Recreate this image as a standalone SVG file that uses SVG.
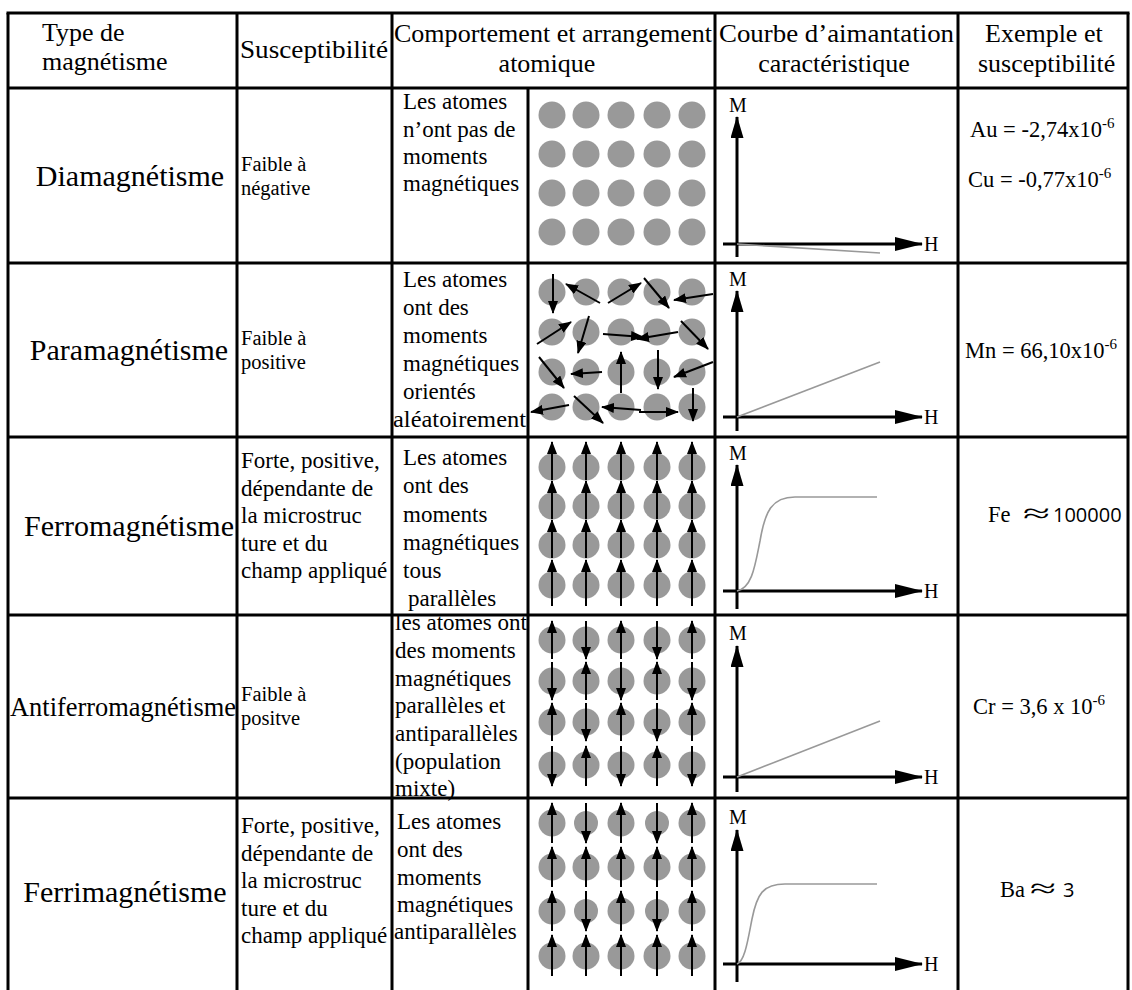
<svg xmlns="http://www.w3.org/2000/svg" width="1132" height="990" viewBox="0 0 1132 990">
<style>
.t{font-family:"Liberation Serif","Times New Roman",serif;fill:#000}
.h{font-size:26px}
.n{font-size:30px}
.b{font-size:23px}
.s{font-size:20.5px}
.e{font-size:22.5px}
.sup{font-size:15px}
.sans{font-family:"Open Sans","Liberation Sans",sans-serif;font-size:20px}
.ax{font-size:20px}
.grid line{stroke:#000;stroke-width:3;fill:none}
.atom{fill:#999}
.mom{stroke:#000;stroke-width:2;marker-end:url(#ah)}
.axis{stroke:#000;stroke-width:3;fill:none}
.va{marker-end:url(#vh)}
.ha{marker-end:url(#hh)}
.curve{stroke:#999;stroke-width:1.6;fill:none}
</style>
<defs>
<marker id="ah" markerUnits="userSpaceOnUse" markerWidth="13" markerHeight="10" refX="12" refY="5" orient="auto"><path d="M0,0 L13,5 L0,10 z" fill="#000"/></marker>
<marker id="vh" markerUnits="userSpaceOnUse" markerWidth="22" markerHeight="13" refX="21" refY="6.5" orient="auto"><path d="M0,0 L22,6.5 L0,13 z" fill="#000"/></marker>
<marker id="hh" markerUnits="userSpaceOnUse" markerWidth="28" markerHeight="14" refX="27" refY="7" orient="auto"><path d="M0,0 L28,7 L0,14 z" fill="#000"/></marker>
<g id="atomrow"><circle class="atom" cx="552" cy="0" r="13.5"/><circle class="atom" cx="586" cy="0" r="13.5"/><circle class="atom" cx="621" cy="0" r="13.5"/><circle class="atom" cx="657" cy="0" r="13.5"/><circle class="atom" cx="692" cy="0" r="13.5"/></g>
</defs>
<rect width="1132" height="990" fill="#fff"/>

<g id="grid" class="grid">
<line x1="8" y1="13" x2="8" y2="990"/>
<line x1="1128" y1="13" x2="1128" y2="990"/>
<line x1="237" y1="13" x2="237" y2="990"/>
<line x1="392" y1="13" x2="392" y2="990"/>
<line x1="528" y1="88" x2="528" y2="990"/>
<line x1="715" y1="13" x2="715" y2="990"/>
<line x1="958" y1="13" x2="958" y2="990"/>
<line x1="6.5" y1="13" x2="1129.5" y2="13"/>
<line x1="8" y1="88" x2="1128" y2="88"/>
<line x1="8" y1="263" x2="1128" y2="263"/>
<line x1="8" y1="437" x2="1128" y2="437"/>
<line x1="8" y1="615" x2="1128" y2="615"/>
<line x1="8" y1="798" x2="1128" y2="798"/>
</g>

<g id="header" class="t h">
<text x="42" y="41">Type de</text>
<text x="42" y="70">magnétisme</text>
<text x="240" y="58" textLength="148" lengthAdjust="spacingAndGlyphs">Susceptibilité</text>
<text x="394" y="42" textLength="318" lengthAdjust="spacingAndGlyphs">Comportement et arrangement</text>
<text x="547" y="72" text-anchor="middle">atomique</text>
<text x="719" y="42" textLength="235" lengthAdjust="spacingAndGlyphs">Courbe d’aimantation</text>
<text x="834" y="72" text-anchor="middle">caractéristique</text>
<text x="985" y="42">Exemple et</text>
<text x="978" y="72">susceptibilité</text>
</g>

<g id="row-dia">
<text class="t n" x="130" y="186" text-anchor="middle">Diamagnétisme</text>
<text class="t s" x="241" y="171">Faible à</text>
<text class="t s" x="241" y="195">négative</text>
<text class="t b" x="403" y="109">Les atomes</text>
<text class="t b" x="403" y="137">n’ont pas de</text>
<text class="t b" x="403" y="164">moments</text>
<text class="t b" x="403" y="191">magnétiques</text>
<use href="#atomrow" y="115"/><use href="#atomrow" y="154"/><use href="#atomrow" y="193"/><use href="#atomrow" y="232"/>
<text class="t ax" x="738" y="112" text-anchor="middle">M</text>
<line class="axis va" x1="737" y1="257" x2="737" y2="117"/>
<line class="axis ha" x1="723" y1="244" x2="922" y2="244"/>
<text class="t ax" x="924" y="251">H</text>
<line class="curve" x1="737" y1="244" x2="880" y2="253"/>
<text class="t e" x="970" y="137">Au = -2,74x10<tspan class="sup" dy="-9">-6</tspan></text>
<text class="t e" x="968" y="187">Cu = -0,77x10<tspan class="sup" dy="-9">-6</tspan></text>
</g>

<g id="row-para">
<text class="t n" x="129" y="360" text-anchor="middle">Paramagnétisme</text>
<text class="t s" x="241" y="345">Faible à</text>
<text class="t s" x="241" y="369">positive</text>
<text class="t b" x="403" y="287">Les atomes</text>
<text class="t b" x="403" y="315">ont des</text>
<text class="t b" x="403" y="343">moments</text>
<text class="t b" x="403" y="371">magnétiques</text>
<text class="t b" x="403" y="399">orientés</text>
<text class="t b" x="393" y="427" textLength="133" lengthAdjust="spacingAndGlyphs">aléatoirement</text>
<use href="#atomrow" y="292"/><use href="#atomrow" y="332"/><use href="#atomrow" y="372"/><use href="#atomrow" y="407"/>
<line class="mom" x1="553" y1="274" x2="553" y2="313"/>
<line class="mom" x1="600" y1="303" x2="566" y2="284"/>
<line class="mom" x1="608" y1="303" x2="641" y2="283"/>
<line class="mom" x1="644" y1="278" x2="669" y2="308"/>
<line class="mom" x1="713" y1="294" x2="674" y2="300"/>
<line class="mom" x1="537" y1="344" x2="571" y2="322"/>
<line class="mom" x1="589" y1="316" x2="578" y2="353"/>
<line class="mom" x1="603" y1="334" x2="643" y2="337"/>
<line class="mom" x1="678" y1="332" x2="637" y2="339"/>
<line class="mom" x1="681" y1="321" x2="708" y2="349"/>
<line class="mom" x1="539" y1="357" x2="564" y2="388"/>
<line class="mom" x1="602" y1="372" x2="571" y2="374"/>
<line class="mom" x1="621" y1="393" x2="621" y2="352"/>
<line class="mom" x1="658" y1="350" x2="658" y2="389"/>
<line class="mom" x1="713" y1="362" x2="674" y2="377"/>
<line class="mom" x1="569" y1="405" x2="531" y2="412"/>
<line class="mom" x1="574" y1="396" x2="603" y2="423"/>
<line class="mom" x1="641" y1="410" x2="602" y2="407"/>
<line class="mom" x1="639" y1="412" x2="678" y2="412"/>
<line class="mom" x1="693" y1="388" x2="693" y2="421"/>
<text class="t ax" x="738" y="286" text-anchor="middle">M</text>
<line class="axis va" x1="737" y1="431" x2="737" y2="291"/>
<line class="axis ha" x1="723" y1="417" x2="922" y2="417"/>
<text class="t ax" x="924" y="424">H</text>
<line class="curve" x1="737" y1="417" x2="880" y2="362"/>
<text class="t e" x="965" y="358">Mn = 66,10x10<tspan class="sup" dy="-9">-6</tspan></text>
</g>

<g id="row-ferro">
<text class="t n" x="129" y="536" text-anchor="middle">Ferromagnétisme</text>
<text class="t b" x="241" y="468">Forte, positive,</text>
<text class="t b" x="241" y="496">dépendante de</text>
<text class="t b" x="241" y="523">la microstruc</text>
<text class="t b" x="241" y="551">ture et du</text>
<text class="t b" x="241" y="578">champ appliqué</text>
<text class="t b" x="403" y="465">Les atomes</text>
<text class="t b" x="403" y="493">ont des</text>
<text class="t b" x="403" y="522">moments</text>
<text class="t b" x="403" y="550">magnétiques</text>
<text class="t b" x="403" y="578">tous</text>
<text class="t b" x="408" y="606">parallèles</text>
<use href="#atomrow" y="467"/><use href="#atomrow" y="506"/><use href="#atomrow" y="545"/><use href="#atomrow" y="585"/>
<g id="ferro-moments">
<line class="mom" x1="552" y1="480" x2="552" y2="442"/><line class="mom" x1="586" y1="480" x2="586" y2="442"/><line class="mom" x1="621" y1="480" x2="621" y2="442"/><line class="mom" x1="657" y1="480" x2="657" y2="442"/><line class="mom" x1="692" y1="480" x2="692" y2="442"/>
<line class="mom" x1="552" y1="519" x2="552" y2="481"/><line class="mom" x1="586" y1="519" x2="586" y2="481"/><line class="mom" x1="621" y1="519" x2="621" y2="481"/><line class="mom" x1="657" y1="519" x2="657" y2="481"/><line class="mom" x1="692" y1="519" x2="692" y2="481"/>
<line class="mom" x1="552" y1="558" x2="552" y2="520"/><line class="mom" x1="586" y1="558" x2="586" y2="520"/><line class="mom" x1="621" y1="558" x2="621" y2="520"/><line class="mom" x1="657" y1="558" x2="657" y2="520"/><line class="mom" x1="692" y1="558" x2="692" y2="520"/>
<line class="mom" x1="552" y1="606" x2="552" y2="560"/><line class="mom" x1="586" y1="606" x2="586" y2="560"/><line class="mom" x1="621" y1="606" x2="621" y2="560"/><line class="mom" x1="657" y1="606" x2="657" y2="560"/><line class="mom" x1="692" y1="606" x2="692" y2="560"/>
</g>
<text class="t ax" x="738" y="460" text-anchor="middle">M</text>
<line class="axis va" x1="737" y1="609" x2="737" y2="465"/>
<line class="axis ha" x1="723" y1="591" x2="922" y2="591"/>
<text class="t ax" x="924" y="598">H</text>
<path class="curve" d="M737,591 C752,588 755,566 760,541 C765,511 772,497 795,497 L877,497"/>
<text class="t e" x="988" y="522">Fe <tspan x="1023" font-size="26" textLength="27" lengthAdjust="spacingAndGlyphs">≈</tspan></text>
<text class="sans" x="1053" y="522">100000</text>
</g>

<g id="row-antiferro">
<text class="t" font-size="26.5" x="10" y="716" textLength="226" lengthAdjust="spacingAndGlyphs">Antiferromagnétisme</text>
<text class="t s" x="241" y="701">Faible à</text>
<text class="t s" x="241" y="725">positve</text>
<text class="t b" x="395" y="630" textLength="132" lengthAdjust="spacingAndGlyphs">les atomes ont</text>
<text class="t b" x="395" y="658">des moments</text>
<text class="t b" x="395" y="686">magnétiques</text>
<text class="t b" x="395" y="713">parallèles et</text>
<text class="t b" x="395" y="741">antiparallèles</text>
<text class="t b" x="395" y="769">(population</text>
<text class="t b" x="395" y="796">mixte)</text>
<use href="#atomrow" y="640"/><use href="#atomrow" y="681"/><use href="#atomrow" y="722"/><use href="#atomrow" y="765"/>
<g id="antiferro-moments">
<line class="mom" x1="552" y1="659" x2="552" y2="621"/><line class="mom" x1="586" y1="621" x2="586" y2="659"/><line class="mom" x1="621" y1="659" x2="621" y2="621"/><line class="mom" x1="657" y1="621" x2="657" y2="659"/><line class="mom" x1="692" y1="659" x2="692" y2="621"/>
<line class="mom" x1="552" y1="662" x2="552" y2="700"/><line class="mom" x1="586" y1="700" x2="586" y2="662"/><line class="mom" x1="621" y1="662" x2="621" y2="700"/><line class="mom" x1="657" y1="700" x2="657" y2="662"/><line class="mom" x1="692" y1="662" x2="692" y2="700"/>
<line class="mom" x1="552" y1="741" x2="552" y2="703"/><line class="mom" x1="586" y1="703" x2="586" y2="741"/><line class="mom" x1="621" y1="741" x2="621" y2="703"/><line class="mom" x1="657" y1="703" x2="657" y2="741"/><line class="mom" x1="692" y1="741" x2="692" y2="703"/>
<line class="mom" x1="552" y1="746" x2="552" y2="786"/><line class="mom" x1="586" y1="786" x2="586" y2="746"/><line class="mom" x1="621" y1="746" x2="621" y2="786"/><line class="mom" x1="657" y1="786" x2="657" y2="746"/><line class="mom" x1="692" y1="746" x2="692" y2="786"/>
</g>
<text class="t ax" x="738" y="640" text-anchor="middle">M</text>
<line class="axis va" x1="737" y1="792" x2="737" y2="646"/>
<line class="axis ha" x1="723" y1="777" x2="922" y2="777"/>
<text class="t ax" x="924" y="784">H</text>
<line class="curve" x1="737" y1="777" x2="880" y2="721"/>
<text class="t e" x="973" y="714">Cr = 3,6 x 10<tspan class="sup" dy="-9">-6</tspan></text>
</g>

<g id="row-ferri">
<text class="t n" x="125" y="902" text-anchor="middle">Ferrimagnétisme</text>
<text class="t b" x="241" y="833">Forte, positive,</text>
<text class="t b" x="241" y="861">dépendante de</text>
<text class="t b" x="241" y="888">la microstruc</text>
<text class="t b" x="241" y="916">ture et du</text>
<text class="t b" x="241" y="943">champ appliqué</text>
<text class="t b" x="397" y="829">Les atomes</text>
<text class="t b" x="397" y="857">ont des</text>
<text class="t b" x="397" y="885">moments</text>
<text class="t b" x="397" y="912">magnétiques</text>
<text class="t b" x="394" y="939">antiparallèles</text>
<g id="ferri-atoms">
<circle class="atom" cx="552" cy="823" r="13.5"/><circle class="atom" cx="586" cy="823" r="12"/><circle class="atom" cx="621" cy="823" r="13.5"/><circle class="atom" cx="657" cy="823" r="12"/><circle class="atom" cx="692" cy="823" r="13.5"/>
<use href="#atomrow" y="867"/>
<circle class="atom" cx="552" cy="911" r="13.5"/><circle class="atom" cx="586" cy="911" r="12"/><circle class="atom" cx="621" cy="911" r="13.5"/><circle class="atom" cx="657" cy="911" r="12"/><circle class="atom" cx="692" cy="911" r="13.5"/>
<use href="#atomrow" y="956"/>
</g>
<g id="ferri-moments">
<line class="mom" x1="552" y1="843" x2="552" y2="803"/><line class="mom" x1="586" y1="803" x2="586" y2="843"/><line class="mom" x1="621" y1="843" x2="621" y2="803"/><line class="mom" x1="657" y1="803" x2="657" y2="843"/><line class="mom" x1="692" y1="843" x2="692" y2="803"/>
<line class="mom" x1="552" y1="887" x2="552" y2="847"/><line class="mom" x1="586" y1="887" x2="586" y2="847"/><line class="mom" x1="621" y1="887" x2="621" y2="847"/><line class="mom" x1="657" y1="887" x2="657" y2="847"/><line class="mom" x1="692" y1="887" x2="692" y2="847"/>
<line class="mom" x1="552" y1="931" x2="552" y2="891"/><line class="mom" x1="586" y1="891" x2="586" y2="931"/><line class="mom" x1="621" y1="931" x2="621" y2="891"/><line class="mom" x1="657" y1="891" x2="657" y2="931"/><line class="mom" x1="692" y1="931" x2="692" y2="891"/>
<line class="mom" x1="552" y1="976" x2="552" y2="935"/><line class="mom" x1="586" y1="976" x2="586" y2="935"/><line class="mom" x1="621" y1="976" x2="621" y2="935"/><line class="mom" x1="657" y1="976" x2="657" y2="935"/><line class="mom" x1="692" y1="976" x2="692" y2="935"/>
</g>
<text class="t ax" x="738" y="824" text-anchor="middle">M</text>
<line class="axis va" x1="737" y1="982" x2="737" y2="830"/>
<line class="axis ha" x1="723" y1="964" x2="922" y2="964"/>
<text class="t ax" x="924" y="971">H</text>
<path class="curve" d="M737,964 C745,961 748,939 752,919 C757,894 763,884 785,884 L877,884"/>
<text class="t e" x="1000" y="897">Ba <tspan x="1030" font-size="26" textLength="26" lengthAdjust="spacingAndGlyphs">≈</tspan></text>
<text class="sans" x="1063" y="897">3</text>
</g>
</svg>
